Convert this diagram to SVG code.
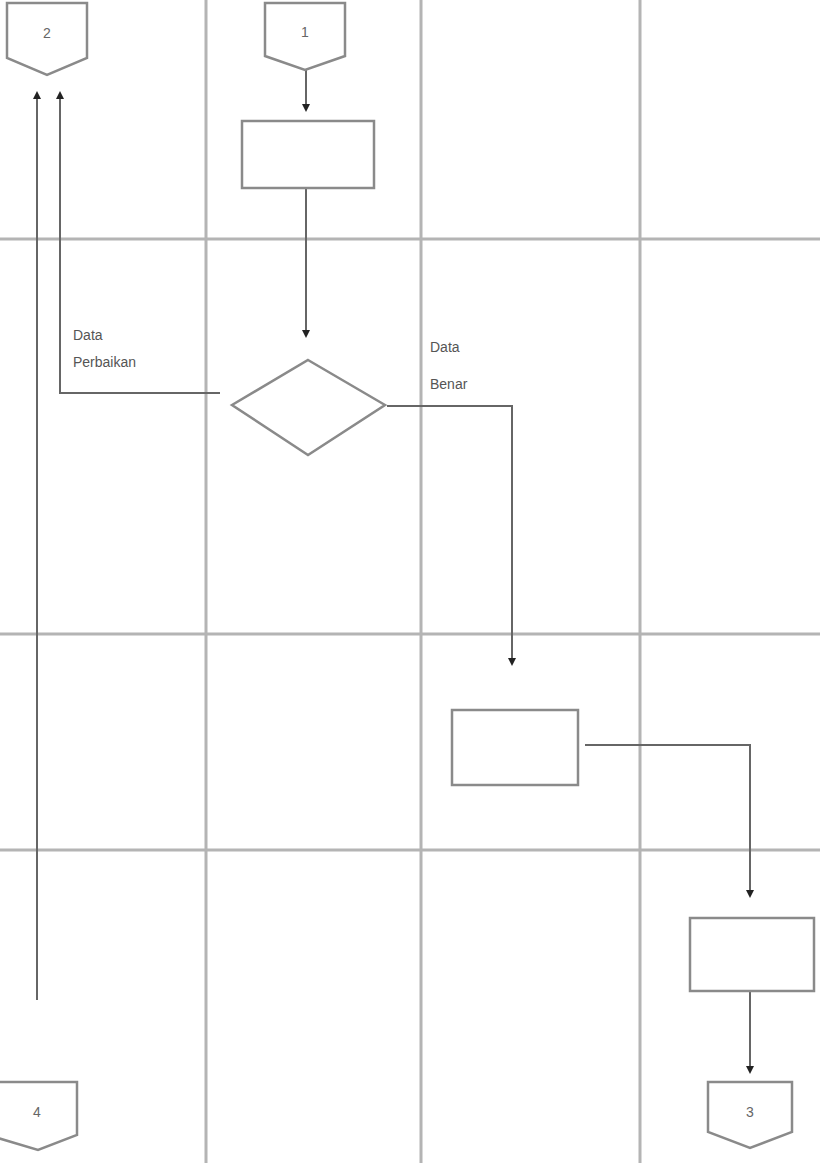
<svg xmlns="http://www.w3.org/2000/svg" width="820" height="1163" viewBox="0 0 820 1163">
<defs>
<style>
.grid{stroke:#b4b4b4;stroke-width:3;fill:none}
.shape{fill:#fff;stroke:#8a8a8a;stroke-width:2.5}
.conn{stroke:#666;stroke-width:2;fill:none}
.lbl{font-family:"Liberation Sans",Arial,sans-serif;font-size:14px;fill:#555}
.num{font-family:"Liberation Sans",Arial,sans-serif;font-size:14px;fill:#666;text-anchor:middle}
</style>
<marker id="ah" markerWidth="8" markerHeight="8" refX="4" refY="4" orient="auto" markerUnits="userSpaceOnUse">
<path d="M0,0 L8,4 L0,8 z" fill="#222"/>
</marker>
</defs>
<rect width="820" height="1163" fill="#fff"/>
<g id="grid">
<line class="grid" x1="206" y1="0" x2="206" y2="1163"/>
<line class="grid" x1="421" y1="0" x2="421" y2="1163"/>
<line class="grid" x1="640" y1="0" x2="640" y2="1163"/>
<line class="grid" x1="0" y1="239" x2="820" y2="239"/>
<line class="grid" x1="0" y1="634" x2="820" y2="634"/>
<line class="grid" x1="0" y1="850" x2="820" y2="850"/>
</g>
<g id="connectors">
<line class="conn" x1="306" y1="70" x2="306" y2="108" marker-end="url(#ah)"/>
<line class="conn" x1="306" y1="188" x2="306" y2="334" marker-end="url(#ah)"/>
<polyline class="conn" points="220,393 60,393 60,95" marker-end="url(#ah)"/>
<line class="conn" x1="37" y1="1000" x2="37" y2="95" marker-end="url(#ah)"/>
<polyline class="conn" points="387,406 512,406 512,662" marker-end="url(#ah)"/>
<polyline class="conn" points="585,745 750,745 750,894" marker-end="url(#ah)"/>
<line class="conn" x1="750" y1="992" x2="750" y2="1070" marker-end="url(#ah)"/>
</g>
<g id="offpage2">
<path class="shape" d="M7,3 H87 V58 L47,75 L7,58 Z"/>
<text class="num" x="47" y="38">2</text>
</g>
<g id="offpage1">
<path class="shape" d="M265,3 H345 V56 L305,70 L265,56 Z"/>
<text class="num" x="305" y="37">1</text>
</g>
<g id="process1">
<rect class="shape" x="242" y="121" width="132" height="67"/>
</g>
<g id="decision">
<path class="shape" d="M308,360 L385,405 L308,455 L232,405 Z"/>
<text class="lbl" x="73" y="340">Data</text>
<text class="lbl" x="73" y="367">Perbaikan</text>
<text class="lbl" x="430" y="352">Data</text>
<text class="lbl" x="430" y="389">Benar</text>
</g>
<g id="process2">
<rect class="shape" x="452" y="710" width="126" height="75"/>
</g>
<g id="process3">
<rect class="shape" x="690" y="918" width="124" height="73"/>
</g>
<g id="offpage3">
<path class="shape" d="M708,1082 H792 V1132 L750,1148 L708,1132 Z"/>
<text class="num" x="750" y="1117">3</text>
</g>
<g id="offpage4">
<path class="shape" d="M-2,1082 H77 V1135 L38,1150 L-2,1138 Z"/>
<text class="num" x="37" y="1117">4</text>
</g>
</svg>
